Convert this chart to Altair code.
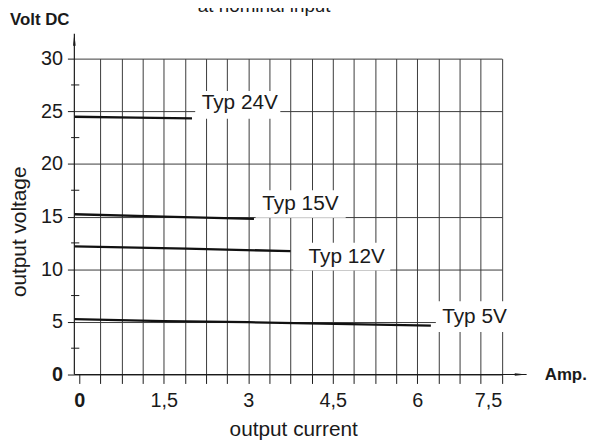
import altair as alt
import pandas as pd

FONT = "Liberation Sans"
INK = "#1a1a1a"
GRID = "#3a3a3a"

# ---- data ----
series_names = ["Typ 24V", "Typ 15V", "Typ 12V", "Typ 5V"]
cur_24 = [-0.09, 1.0, 2.0]
volt_24 = [24.48, 24.40, 24.33]
cur_15 = [-0.09, 1.5, 3.1]
volt_15 = [15.22, 15.0, 14.78]
cur_12 = [-0.09, 1.9, 3.75]
volt_12 = [12.18, 11.95, 11.72]
cur_5 = [-0.09, 1.5, 3.0, 6.24]
volt_5 = [5.27, 5.08, 4.97, 4.64]

label_x = [2.848, 3.925, 4.746, 7.014]
label_y = [25.20, 15.63, 10.61, 4.90]
box_x0 = [2.057, 3.129, 3.797, 6.328]
box_x1 = [3.568, 4.728, 5.519, 7.646]
box_y0 = [24.29, 14.88, 9.89, 4.05]
box_y1 = [26.93, 17.51, 12.52, 6.97]

x_ticks = [0, 0.375, 0.75, 1.125, 1.5, 1.875, 2.25, 2.625, 3, 3.375, 3.75,
           4.125, 4.5, 4.875, 5.25, 5.625, 6, 6.375, 6.75, 7.125, 7.5]
x_labels = [0, 1.5, 3, 4.5, 6, 7.5]
y_ticks = [0, 5, 10, 15, 20, 25, 30]
y_minor = [2.5, 7.5, 12.5, 17.5, 22.5, 27.5]

# ---- tables ----
rows = []
for name, xs_, ys_ in zip(series_names, [cur_24, cur_15, cur_12, cur_5],
                          [volt_24, volt_15, volt_12, volt_5]):
    for a, b in zip(xs_, ys_):
        rows.append({"series": name, "current": a, "voltage": b})
curves = pd.DataFrame(rows)

labels = pd.DataFrame({
    "text": series_names, "lx": label_x, "ly": label_y,
    "x0": box_x0, "x1": box_x1, "y0": box_y0, "y1": box_y1,
})

W, H = 431.7, 319
xs = alt.Scale(domain=[-0.088, 7.5], nice=False, zero=False)
ys = alt.Scale(domain=[0, 30], nice=False, zero=False)

label_list = "[" + ",".join(str(v) for v in x_labels) + "]"

x_axis = alt.Axis(
    values=x_ticks, domain=False, grid=True, gridColor=GRID, gridWidth=1,
    gridOpacity={"condition": {"test": "datum.value == 0", "value": 0}, "value": 1},
    ticks=True, tickSize=9, tickColor=INK, tickWidth=1,
    labelExpr=f"indexof({label_list}, datum.value) >= 0 ? replace(format(datum.value, '~g'), '.', ',') : ''",
    labelFont=FONT, labelFontSize=20, labelColor=INK, labelPadding=7,
    labelFontWeight={"condition": {"test": "datum.value == 0", "value": "bold"}, "value": "normal"},
    title="output current", titleFont=FONT, titleFontSize=21, titleFontWeight="normal",
    titleColor=INK, titleX=221, titleY=62, titleBaseline="alphabetic", titleAlign="center",
)
y_axis = alt.Axis(
    values=y_ticks, domain=False, grid=True, gridColor=GRID, gridWidth=1,
    ticks=True, tickSize=7, tickColor=INK, tickWidth=1,
    labelFont=FONT, labelFontSize=20, labelColor=INK, labelPadding=5,
    labelFontWeight={"condition": {"test": "datum.value == 0", "value": "bold"}, "value": "normal"},
    title="output voltage", titleFont=FONT, titleFontSize=21, titleFontWeight="normal",
    titleColor=INK, titleX=-49, titleY=174.4, titleBaseline="alphabetic", titleAlign="center",
    titleAngle=270,
)

lines = alt.Chart(curves).mark_line(color="#111111", strokeWidth=2.3).encode(
    x=alt.X("current:Q", scale=xs, axis=x_axis),
    y=alt.Y("voltage:Q", scale=ys, axis=y_axis),
    detail="series:N",
)

boxes = alt.Chart(labels).mark_rect(color="white").encode(
    x=alt.X("x0:Q", scale=xs, axis=x_axis), x2="x1:Q",
    y=alt.Y("y0:Q", scale=ys, axis=y_axis), y2="y1:Q",
)

texts = alt.Chart(labels).mark_text(
    font=FONT, fontSize=21, color=INK, align="center", baseline="alphabetic"
).encode(
    x=alt.X("lx:Q", scale=xs, axis=x_axis),
    y=alt.Y("ly:Q", scale=ys, axis=y_axis),
    text="text:N",
)

one = pd.DataFrame({"v": [0]})

# axis lines with arrow heads
x_line = alt.Chart(one).mark_rule(color=INK, strokeWidth=1.2).encode(
    x=alt.value(0), x2=alt.value(456.7), y=alt.value(H))
y_line = alt.Chart(one).mark_rule(color=INK, strokeWidth=1.2).encode(
    x=alt.value(0), y=alt.value(H), y2=alt.value(-25))
x_arrow = alt.Chart(one).mark_point(
    shape="M -1 -0.22 L 1 0 L -1 0.22 Z", filled=True, color=INK, size=144, opacity=1
).encode(x=alt.value(450.7), y=alt.value(H))
y_arrow = alt.Chart(one).mark_point(
    shape="M -0.22 1 L 0 -1 L 0.22 1 Z", filled=True, color=INK, size=144, opacity=1
).encode(x=alt.value(0), y=alt.value(-19))

minor = alt.Chart(pd.DataFrame({"v": y_minor})).mark_rule(color=INK, strokeWidth=1).encode(
    y=alt.Y("v:Q", scale=ys, axis=y_axis), x=alt.value(-3.3), x2=alt.value(5))

annot = pd.DataFrame({"text": ["Volt DC", "Amp.", "at nominal input"]})
volt_dc = alt.Chart(annot.iloc[[0]]).mark_text(
    font=FONT, fontSize=17, fontWeight="bold", color=INK, align="left", baseline="alphabetic"
).encode(x=alt.value(-65), y=alt.value(-34), text="text:N")
amp = alt.Chart(annot.iloc[[1]]).mark_text(
    font=FONT, fontSize=17, fontWeight="bold", color=INK, align="left", baseline="alphabetic"
).encode(x=alt.value(475), y=alt.value(324.7), text="text:N")
top_note = alt.Chart(annot.iloc[[2]]).mark_text(
    font=FONT, fontSize=19, color=INK, align="center", baseline="alphabetic"
).encode(x=alt.value(191.7), y=alt.value(-47), text="text:N")

chart = alt.layer(
    lines, boxes, texts, minor, x_line, y_line, x_arrow, y_arrow, volt_dc, amp, top_note
).properties(
    width=W, height=H,
    autosize=alt.AutoSizeParams(type="none"),
    padding={"left": 67, "top": 49, "right": 88, "bottom": 64},
).configure(background="white").configure_view(stroke=None)

chart.save("out.html", embed_options={"renderer": "svg", "actions": False})
